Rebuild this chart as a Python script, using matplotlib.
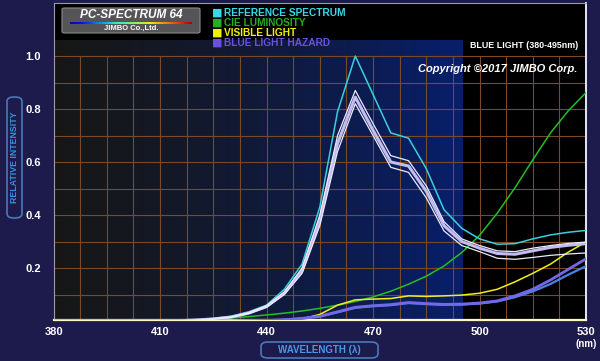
import numpy as np
import matplotlib
matplotlib.use('Agg')
import matplotlib.pyplot as plt
from matplotlib.patches import FancyBboxPatch
from matplotlib.collections import LineCollection

plt.rcParams['font.family'] = ['Liberation Sans', 'DejaVu Sans']

# wavelength grid (nm), 5 nm steps
wl = [380, 385, 390, 395, 400, 405, 410, 415, 420, 425, 430, 435, 440, 445, 450, 455,
      460, 465, 470, 475, 480, 485, 490, 495, 500, 505, 510, 515, 520, 525, 530]

# reference spectrum (cyan)
ref = [0, 0, 0, 0, 0, 0, 0, 0.001, 0.005, 0.01, 0.018, 0.035, 0.06, 0.12, 0.215, 0.43,
       0.79, 1.0, 0.855, 0.71, 0.69, 0.575, 0.42, 0.35, 0.31, 0.29, 0.292, 0.31, 0.325, 0.335, 0.342]

# measured spectrum band (lavender mean + upper / lower white)
meas_mid = [0, 0, 0, 0, 0, 0, 0, 0.001, 0.004, 0.008, 0.015, 0.03, 0.055, 0.105, 0.19, 0.38,
            0.67, 0.845, 0.72, 0.60, 0.585, 0.49, 0.36, 0.30, 0.275, 0.255, 0.252, 0.265, 0.278, 0.286, 0.292]
meas_hi = [0, 0, 0, 0, 0, 0, 0, 0.001, 0.004, 0.009, 0.016, 0.032, 0.058, 0.11, 0.2, 0.40,
           0.70, 0.87, 0.745, 0.624, 0.605, 0.51, 0.375, 0.31, 0.285, 0.265, 0.262, 0.275, 0.285, 0.293, 0.298]
meas_lo = [0, 0, 0, 0, 0, 0, 0, 0.001, 0.003, 0.007, 0.014, 0.028, 0.052, 0.1, 0.18, 0.36,
           0.64, 0.82, 0.70, 0.58, 0.561, 0.465, 0.34, 0.285, 0.262, 0.237, 0.233, 0.24, 0.248, 0.253, 0.257]

# CIE luminosity (green)
cie = [0.00004, 0.00006, 0.00012, 0.0002, 0.0004, 0.0006, 0.0012, 0.0022, 0.004, 0.0073, 0.0116,
       0.0168, 0.023, 0.0298, 0.038, 0.048, 0.06, 0.0739, 0.091, 0.1126, 0.139, 0.1693, 0.208,
       0.2586, 0.323, 0.4073, 0.503, 0.6082, 0.71, 0.7932, 0.862]

# visible light (yellow)
vis = [0.002, 0.002, 0.002, 0.002, 0.002, 0.002, 0.002, 0.002, 0.002, 0.002, 0.002, 0.003, 0.004,
       0.005, 0.008, 0.025, 0.06, 0.08, 0.083, 0.085, 0.095, 0.093, 0.095, 0.098, 0.105, 0.12,
       0.148, 0.18, 0.215, 0.26, 0.298]

# blue light hazard (purple main, light blue lower)
blh = [0, 0, 0, 0, 0, 0, 0, 0, 0, 0, 0, 0.001, 0.002, 0.005, 0.01, 0.018, 0.035, 0.052, 0.058,
       0.062, 0.07, 0.066, 0.063, 0.064, 0.068, 0.076, 0.095, 0.12, 0.155, 0.195, 0.235]
blh_lo = [0, 0, 0, 0, 0, 0, 0, 0, 0, 0, 0, 0.001, 0.002, 0.005, 0.01, 0.017, 0.033, 0.05, 0.056,
          0.06, 0.068, 0.064, 0.061, 0.062, 0.066, 0.074, 0.09, 0.112, 0.14, 0.175, 0.207]

xticks = [380, 410, 440, 470, 500, 530]
yticks = [0.2, 0.4, 0.6, 0.8, 1.0]

W, H = 600, 361
fig = plt.figure(figsize=(6, 3.61), dpi=100)
fig.patch.set_facecolor('#1d1a4c')

ax = fig.add_axes([53.6 / W, 41 / H, 532.4 / W, 317 / H])
ax.set_facecolor('black')
ax.set_xlim(380, 530)
ax.set_ylim(0.004, 1.2)

# blue light band (380-495nm) with horizontal gradient
grad = np.linspace(0, 1, 200)
c0 = np.array([0.09, 0.09, 0.09])
c1 = np.array([0.03, 0.12, 0.42])
img = c0[None, :] + (c1 - c0)[None, :] * (grad ** 1.3)[:, None]
ax.imshow(img[None, :, :], extent=[380, 495, 0, 1.06], aspect='auto', zorder=0)

# grid only inside 0..1.0
gx = np.arange(380, 531, 7.5)
gy = np.arange(0.1, 1.01, 0.1)
ax.vlines(gx, 0, 1.0, colors='#7a4a28', lw=0.8, zorder=1)
ax.hlines(gy, 380, 530, colors='#7a4a28', lw=0.8, zorder=1)

ax.plot(wl, cie, color='#22c022', lw=1.1, zorder=3)
ax.plot(wl, vis, color='#f0f020', lw=1.1, zorder=3)
ax.plot(wl, blh_lo, color='#4a82e8', lw=1.6, zorder=3)
ax.plot(wl, blh, color='#7468e8', lw=2.0, zorder=3)
ax.plot(wl, ref, color='#38d0e0', lw=1.1, zorder=4)
ax.plot(wl, meas_mid, color='#c4bcf0', lw=2.2, zorder=4)
ax.plot(wl, meas_hi, color='#ececff', lw=0.9, zorder=5)
ax.plot(wl, meas_lo, color='#ececff', lw=0.9, zorder=5)

ax.set_xticks(xticks)
ax.set_xticklabels([str(t) for t in xticks])
ax.set_yticks(yticks)
ax.set_yticklabels(['%.1f' % t for t in yticks])
ax.tick_params(length=0, colors='white', labelsize=8)
ax.tick_params(axis='x', pad=5)
ax.tick_params(axis='y', pad=9)
for lab in ax.get_xticklabels() + ax.get_yticklabels():
    lab.set_fontweight('bold')
for s in ['left', 'top']:
    ax.spines[s].set_color('#9a9aa8')
ax.spines['right'].set_color('#e8e8f0')
ax.spines['bottom'].set_color('#fff6c8')
ax.spines['bottom'].set_linewidth(1.6)
ax.spines['right'].set_linewidth(1.4)

def fx(px):
    return px / W

def fy(py):
    return 1 - py / H

# title box
box = FancyBboxPatch((fx(62), fy(33)), fx(138), 25 / H, boxstyle='round,pad=0,rounding_size=0.004',
                     transform=fig.transFigure, facecolor='#555558', edgecolor='#8a8a8a', lw=0.8, zorder=10)
fig.patches.append(box)
fig.text(fx(131), fy(15), 'PC-SPECTRUM 64', color='white', fontsize=8.5, fontweight='bold',
         fontstyle='italic', ha='center', va='center', zorder=11)
xs = np.linspace(fx(70), fx(192), 80)
segs = [[(xs[i], fy(22.5)), (xs[i + 1], fy(22.5))] for i in range(len(xs) - 1)]
lc = LineCollection(segs, colors=plt.cm.jet(np.linspace(0.05, 0.95, len(segs))), lw=1.3,
                    transform=fig.transFigure, zorder=11)
fig.add_artist(lc)
fig.text(fx(131), fy(28.5), 'JIMBO Co.,Ltd.', color='white', fontsize=5.5, fontweight='bold',
         ha='center', va='center', zorder=11)

# legend
leg = [('REFERENCE SPECTRUM', '#38d8e8'), ('CIE LUMINOSITY', '#20b020'),
       ('VISIBLE LIGHT', '#f0f000'), ('BLUE LIGHT HAZARD', '#6a50e0')]
for i, (txt, col) in enumerate(leg):
    yy = 12.5 + i * 10
    fig.text(fx(212), fy(yy), '\u25a0', color=col, fontsize=8, ha='left', va='center',
             family='DejaVu Sans', zorder=11)
    fig.text(fx(224), fy(yy), txt, color=col, fontsize=7.3, fontweight='bold', ha='left',
             va='center', zorder=11)

fig.text(fx(578), fy(45), 'BLUE LIGHT (380-495nm)', color='white', fontsize=6.4, fontweight='bold',
         ha='right', va='center', zorder=11)
fig.text(fx(577), fy(68.5), 'Copyright \u00a92017 JIMBO Corp.', color='white', fontsize=8,
         fontweight='bold', fontstyle='italic', ha='right', va='center', zorder=11)

# axis label boxes
ybox = FancyBboxPatch((fx(7), fy(218)), fx(15), 121 / H,
                      boxstyle='round,pad=0,rounding_size=0.012', transform=fig.transFigure,
                      facecolor='none', edgecolor='#4a78b8', lw=1.2, zorder=10)
fig.patches.append(ybox)
fig.text(fx(14.5), fy(157.5), 'RELATIVE INTENSITY', color='#3a92e0', fontsize=6.3,
         fontweight='bold', rotation=90, ha='center', va='center', zorder=11)

xbox = FancyBboxPatch((fx(261), fy(358)), fx(117), 16 / H,
                      boxstyle='round,pad=0,rounding_size=0.012', transform=fig.transFigure,
                      facecolor='none', edgecolor='#4a78b8', lw=1.2, zorder=10)
fig.patches.append(xbox)
fig.text(fx(319.5), fy(350), 'WAVELENGTH (\u03bb)', color='#4a9ae8', fontsize=7,
         fontweight='bold', ha='center', va='center', zorder=11)
fig.text(fx(586), fy(344), '(nm)', color='white', fontsize=7, fontweight='bold',
         ha='center', va='center', zorder=11)

fig.savefig('out.png', dpi=100, facecolor=fig.get_facecolor())
